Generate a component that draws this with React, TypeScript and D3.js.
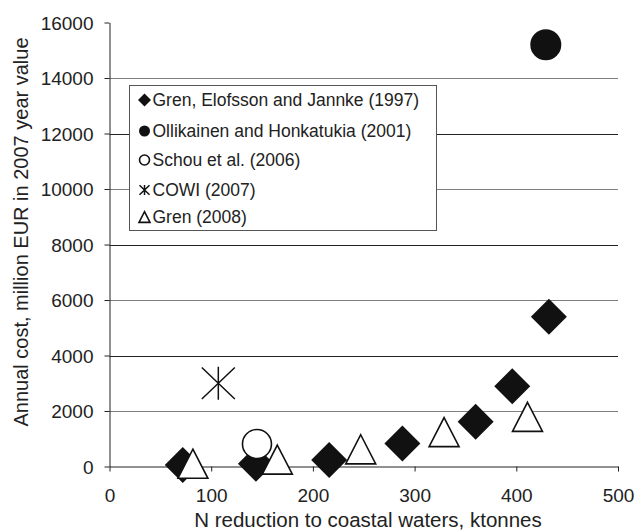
import React, { useEffect, useRef } from 'react';
import * as d3 from 'd3';

// values
const grenElofssonX = [72, 144, 216, 288, 360, 396, 432];
const grenElofssonY = [50, 100, 230, 830, 1610, 2890, 5400];
const ollikainenX = [429];
const ollikainenY = [15200];
const schouX = [145];
const schouY = [810];
const cowiX = [107];
const cowiY = [3000];
const gren2008X = [82, 165, 247, 329, 411];
const gren2008Y = [100, 250, 620, 1240, 1790];

const xTicks = [0, 100, 200, 300, 400, 500];
const yTicks = [0, 2000, 4000, 6000, 8000, 10000, 12000, 14000, 16000];

const seriesNames = [
  'Gren, Elofsson and Jannke (1997)',
  'Ollikainen and Honkatukia (2001)',
  'Schou et al. (2006)',
  'COWI (2007)',
  'Gren (2008)',
];
const seriesShapes = ['diamond', 'disc', 'circle', 'star', 'triangle'];

const W = 636;
const H = 532;
const FONT = '"Liberation Sans", Arial, sans-serif';

// marker path, s is half size
function markerPath(shape: string, s: number) {
  if (shape === 'diamond') return `M0,${-s}L${s},0L0,${s}L${-s},0Z`;
  if (shape === 'triangle') {
    const h = s * 0.97;
    return `M0,${-h}L${s},${h}L${-s},${h}Z`;
  }
  if (shape === 'star') {
    return `M0,${-s}L0,${s}M${-s},${-s * 0.95}L${s},${s * 0.95}M${-s},${s * 0.95}L${s},${-s * 0.95}`;
  }
  return d3.arc()({ innerRadius: 0, outerRadius: s, startAngle: 0, endAngle: Math.PI * 2 }) as string;
}

function drawMarker(g: any, shape: string, s: number) {
  const filled = shape === 'diamond' || shape === 'disc';
  g.append('path')
    .attr('d', markerPath(shape, s))
    .attr('fill', shape === 'star' ? 'none' : filled ? '#111' : '#fff')
    .attr('stroke', '#111')
    .attr('stroke-width', shape === 'star' ? 1.5 : filled ? 0 : 1.6)
    .attr('stroke-linejoin', 'miter');
}

export default function App() {
  const ref = useRef<SVGSVGElement>(null);

  useEffect(() => {
    document.body.style.margin = '0';
    if (!ref.current) return;
    const svg = d3.select(ref.current);
    svg.selectAll('*').remove();

    const x = d3.scaleLinear().domain([0, 500]).range([109.5, 618]);
    const y = d3.scaleLinear().domain([0, 16000]).range([466.5, 22.5]);

    // gridlines, the alternate ones come out lighter in the original
    svg
      .append('g')
      .selectAll('line')
      .data(yTicks.filter((t) => t > 0 && t < 16000))
      .enter()
      .append('line')
      .attr('x1', x(0))
      .attr('x2', x(500))
      .attr('y1', (d) => Math.round(y(d)) + 0.5)
      .attr('y2', (d) => Math.round(y(d)) + 0.5)
      .attr('stroke', (d) => (d % 4000 === 0 ? '#222' : '#808080'))
      .attr('stroke-width', 1);

    // axes
    const xAxis = svg
      .append('g')
      .attr('transform', `translate(0,${Math.round(y(0)) - 0.5})`)
      .call(d3.axisBottom(x).tickValues(xTicks).tickSize(5).tickSizeOuter(0).tickPadding(17));
    const yAxis = svg
      .append('g')
      .attr('transform', `translate(${Math.round(x(0)) - 0.5},0)`)
      .call(
        d3
          .axisLeft(y)
          .tickValues(yTicks)
          .tickSize(5)
          .tickSizeOuter(0)
          .tickPadding(11)
          .tickFormat(d3.format('d'))
      );
    [xAxis, yAxis].forEach((a) => {
      a.select('.domain').attr('stroke', '#222');
      a.selectAll('.tick line').attr('stroke', '#222');
      a.selectAll('.tick text')
        .attr('font-family', FONT)
        .attr('font-size', 19)
        .attr('fill', '#222');
    });
    yAxis.selectAll('.tick text').attr('dy', '0.36em');

    // axis titles
    svg
      .append('text')
      .attr('x', 368)
      .attr('y', 527)
      .attr('text-anchor', 'middle')
      .attr('font-family', FONT)
      .attr('font-size', 20.5)
      .attr('fill', '#222')
      .text('N reduction to coastal waters, ktonnes');
    svg
      .append('text')
      .attr('transform', 'translate(28,232) rotate(-90)')
      .attr('text-anchor', 'middle')
      .attr('font-family', FONT)
      .attr('font-size', 20)
      .attr('fill', '#222')
      .text('Annual cost, million EUR in 2007 year value');

    // legend
    const legend = svg.append('g');
    legend
      .append('rect')
      .attr('x', 129.5)
      .attr('y', 85.5)
      .attr('width', 307)
      .attr('height', 145)
      .attr('fill', '#fff')
      .attr('stroke', '#555');
    const rowY = [100, 131, 160, 190, 217];
    const legendSize = [6.5, 5.5, 5, 5, 5.5];
    seriesNames.forEach((name, i) => {
      const row = legend.append('g').attr('transform', `translate(0,${rowY[i]})`);
      const m = row.append('g').attr('transform', 'translate(144.5,0)');
      drawMarker(m, seriesShapes[i], legendSize[i]);
      row
        .append('text')
        .attr('x', 152.5)
        .attr('dy', '0.36em')
        .attr('font-family', FONT)
        .attr('font-size', 17.5)
        .attr('fill', '#222')
        .text(name);
    });

    // points
    const series = [
      { xs: grenElofssonX, ys: grenElofssonY, size: 18 },
      { xs: ollikainenX, ys: ollikainenY, size: 15.5 },
      { xs: schouX, ys: schouY, size: 14.5 },
      { xs: cowiX, ys: cowiY, size: 16.5 },
      { xs: gren2008X, ys: gren2008Y, size: 15 },
    ];
    series.forEach((s, i) => {
      s.xs.forEach((v, j) => {
        const g = svg.append('g').attr('transform', `translate(${x(v)},${y(s.ys[j])})`);
        drawMarker(g, seriesShapes[i], s.size);
      });
    });
  }, []);

  return <svg ref={ref} width={W} height={H} style={{ display: 'block', background: '#fff' }} />;
}
